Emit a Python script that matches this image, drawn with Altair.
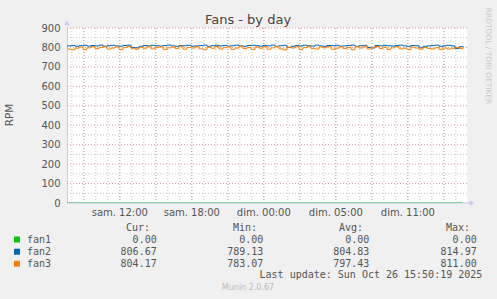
import altair as alt
import pandas as pd

# ---- data (RPM, one reading every 20 minutes, hours since left edge) ----
fan2 = [808, 810, 806, 809, 811, 807, 810, 808, 812, 806, 809, 811, 808, 807, 810, 812, 800, 798, 806, 810,
        808, 811, 809, 807, 810, 812, 808, 806, 810, 809, 811, 807, 808, 810, 812, 806, 809, 811, 808, 810,
        807, 809, 812, 808, 806, 810, 811, 809, 807, 810, 808, 812, 806, 809, 811, 800, 806, 810, 808, 811,
        809, 807, 812, 808, 806, 810, 809, 811, 807, 808, 810, 812, 806, 809, 811, 800, 797, 810, 808, 811,
        809, 807, 810, 812, 808, 806, 810, 809, 798, 806, 808, 810, 812, 806, 809, 811, 808, 795, 804, 807]
fan3 = [792, 788, 796, 802, 790, 798, 804, 794, 800, 806, 792, 797, 803, 789, 799, 805, 795, 791, 801, 796,
        807, 793, 799, 804, 790, 798, 802, 795, 806, 791, 800, 797, 804, 793, 788, 801, 796, 805, 792, 799,
        803, 790, 797, 806, 794, 800, 789, 802, 796, 804, 791, 798, 805, 793, 787, 801, 797, 803, 790, 799,
        806, 795, 792, 802, 798, 805, 791, 796, 804, 794, 800, 788, 803, 797, 806, 792, 799, 805, 795, 801,
        790, 798, 804, 793, 796, 789, 802, 797, 791, 800, 795, 793, 799, 790, 797, 792, 796, 800, 794, 804]
fan1 = [0] * len(fan2)
step_h = 1.0 / 3.0
hours = [i * step_h for i in range(len(fan2))]

series_names = ["fan1", "fan2", "fan3"]
series_colors = ["#00cc00", "#0066b3", "#ff8000"]
cur_vals = ["0.00", "806.67", "804.17"]
min_vals = ["0.00", "789.13", "783.07"]
avg_vals = ["0.00", "804.83", "797.43"]
max_vals = ["0.00", "814.97", "811.00"]

tick_hours = [4.4, 10.4, 16.4, 22.4, 28.4]
tick_labels = ["sam. 12:00", "sam. 18:00", "dim. 00:00", "dim. 05:00", "dim. 11:00"]
minor_v = [0.4 + k for k in range(34) if 0.4 + k <= 33.3]
major_v = [1.4 + 3 * k for k in range(12) if 1.4 + 3 * k <= 33.3]
minor_h = [50 + 100 * k for k in range(9)]
major_h = [100 * k for k in range(1, 10)]
y_ticks = [100 * k for k in range(10)]

XMAX = 33.33
xs = alt.Scale(domain=[0, XMAX], nice=False, zero=False)
ys = alt.Scale(domain=[0, 900], nice=False)

TXT = "#555555"
LAV = "#c8c8f4"

YAX = alt.Axis(values=y_ticks, title=None, grid=False, ticks=False, domain=True,
               domainColor=LAV, labelColor=TXT, labelFontSize=10, labelFont="DejaVu Sans",
               labelPadding=7)

def Y(field):
    return alt.Y(field, scale=ys, axis=YAX)

def vrules(vals, color):
    return alt.Chart(pd.DataFrame({"t": vals})).mark_rule(
        color=color, strokeDash=[1, 2], strokeWidth=1
    ).encode(x=alt.X("t:Q", scale=xs, axis=None))

def hrules(vals, color):
    return alt.Chart(pd.DataFrame({"v": vals})).mark_rule(
        color=color, strokeDash=[1, 2], strokeWidth=1
    ).encode(y=Y("v:Q"))

grid = [
    vrules(minor_v, "#c4c4c4"),
    hrules(minor_h, "#c4c4c4"),
    vrules(major_v, "#e09a9a"),
    hrules(major_h, "#e09a9a"),
]

df = pd.DataFrame({"t": hours * 3,
                   "rpm": fan1 + fan2 + fan3,
                   "s": ["fan1"] * len(hours) + ["fan2"] * len(hours) + ["fan3"] * len(hours)})

def line(name, color, width=1):
    return alt.Chart(df[df.s == name]).mark_line(
        color=color, strokeWidth=width, interpolate="step-after", clip=True
    ).encode(x=alt.X("t:Q", scale=xs, axis=None), y=Y("rpm:Q"))

xdomain = alt.Chart(pd.DataFrame({"a": [0]})).mark_rule(color=LAV).encode(
    x=alt.value(0), x2=alt.value(405), y=alt.value(175))

lines = [line("fan2", "#0066b3"), line("fan3", "#ff8000"), line("fan1", "#00cc00", 1.5)]

arrows = [
    alt.Chart(pd.DataFrame({"a": [0]})).mark_point(shape="triangle-up", filled=True, color=LAV, size=30, opacity=1)
        .encode(x=alt.value(0), y=alt.value(-5)),
    alt.Chart(pd.DataFrame({"a": [0]})).mark_point(shape="triangle-right", filled=True, color=LAV, size=30, opacity=1)
        .encode(x=alt.value(405), y=alt.value(175)),
]

xlabels = alt.Chart(pd.DataFrame({"t": tick_hours, "lab": tick_labels})).mark_text(
    fontSize=10, font="DejaVu Sans", color=TXT, baseline="middle", align="center"
).encode(x=alt.X("t:Q", scale=xs, axis=None), y=alt.value(185), text="lab:N")

def label(text, x, y, size=10, color=TXT, align="left", font="DejaVu Sans", angle=0):
    kw = dict(text=text, fontSize=size, color=color, align=align, font=font, baseline="middle")
    if angle:
        kw["angle"] = angle
    return alt.Chart(pd.DataFrame({"a": [0]})).mark_text(**kw).encode(x=alt.value(x), y=alt.value(y))

texts = [
    label("Fans - by day", 181, -8, size=13, color="#444444", align="center"),
    label("RPM", -57, 87, size=10.5, align="center", angle=270),
    label("RRDTOOL / TOBI OETIKER", 421, 28, size=7.5, color="#c8c8c8", align="center", angle=90),
]

MONO = "DejaVu Sans Mono"
hdr_y = 200
for txt, xr in zip(["Cur:", "Min:", "Avg:", "Max:"], [83, 190, 296, 403]):
    texts.append(label(txt, xr, hdr_y, align="right", font=MONO))

row_y = [211.5, 223.7, 235.7]
for i, name in enumerate(series_names):
    y = row_y[i]
    texts.append(alt.Chart(pd.DataFrame({"a": [0]})).mark_square(
        color=series_colors[i], size=36, opacity=1).encode(x=alt.value(-50), y=alt.value(y)))
    texts.append(label(name, -40, y, font=MONO))
    for vals, xr in zip([cur_vals, min_vals, avg_vals, max_vals], [89.7, 196.3, 302.3, 409.7]):
        texts.append(label(vals[i], xr, y, align="right", font=MONO))

texts.append(label("Last update: Sun Oct 26 15:50:19 2025", 415.3, 247.3, align="right", font=MONO))
texts.append(label("Munin 2.0.67", 181, 260, size=8, color="#bbbbbb", align="center"))

chart = alt.layer(*grid, *lines, xdomain, *arrows, xlabels, *texts).properties(
    width=400, height=175,
    padding={"left": 67, "top": 28, "right": 30, "bottom": 96},
    autosize=alt.AutoSizeParams(type="none"),
    background="#f0f0f0",
).configure_view(fill="white", stroke=None)

chart.save("out.html", embed_options={"renderer": "svg", "actions": False})
